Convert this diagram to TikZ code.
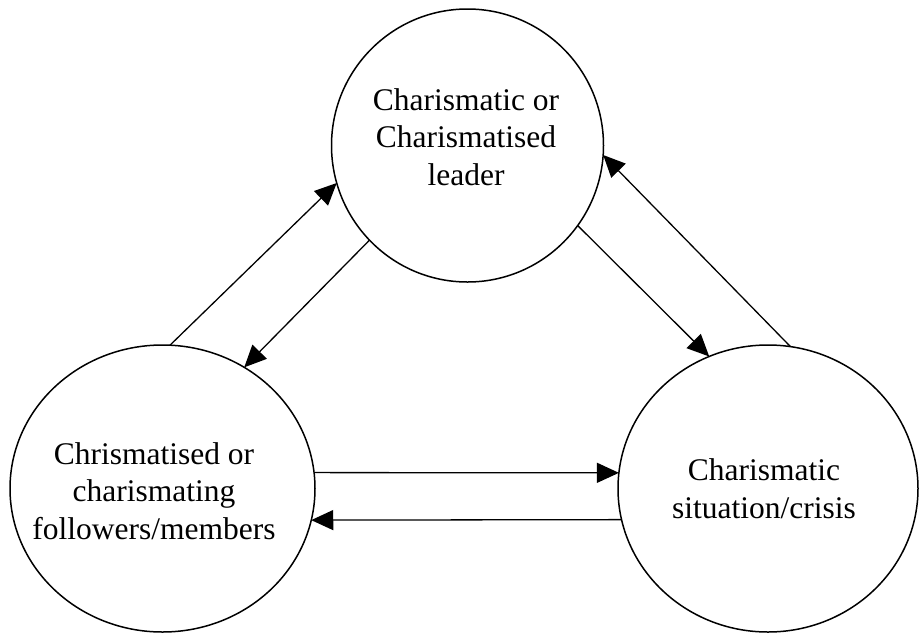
\documentclass[tikz,border=0pt]{standalone}
\usepackage{fontspec}
\setmainfont{Liberation Serif}
\usetikzlibrary{shapes.geometric,arrows.meta}
\begin{document}
\begin{tikzpicture}[x=1pt,y=-1pt,
  bubble/.style={ellipse,draw,line width=1.5pt,inner sep=0pt,outer sep=0pt},
  lbl/.style={align=center,font=\fontsize{31.5}{37.5}\selectfont,inner sep=0pt},
  link/.style={line width=1.3pt,-{Triangle[length=22pt,width=20pt]}}]
\useasboundingbox (0,0) rectangle (919,633);
% circles
\node[bubble,minimum width=272pt,minimum height=273pt] (T) at (467.5,145.5) {};
\node[bubble,minimum width=305pt,minimum height=287pt] (L) at (162.5,488.5) {};
\node[bubble,minimum width=300pt,minimum height=287pt] (R) at (768,488.5) {};
% texts
\node[lbl] (Tt) at (466,136.75) {Charismatic or\\Charismatised\hspace*{16pt}\\leader};
\node[lbl] (Lt) at (154,491) {Chrismatised or\\charismating\\followers/members};
\node[lbl] (Rt) at (764,488.5) {Charismatic\\situation/crisis};
% connectors
\draw[link] (L.87) -- (T.196);
\draw[link] (T.224) -- (L.56);
\draw[link] (T.324) -- (R.114);
\draw[link] (R.81) -- (T.356);
\draw[link] (L.6) -- (R.174);
\draw[link] (R.192) -- (L.348);
\end{tikzpicture}
\end{document}
